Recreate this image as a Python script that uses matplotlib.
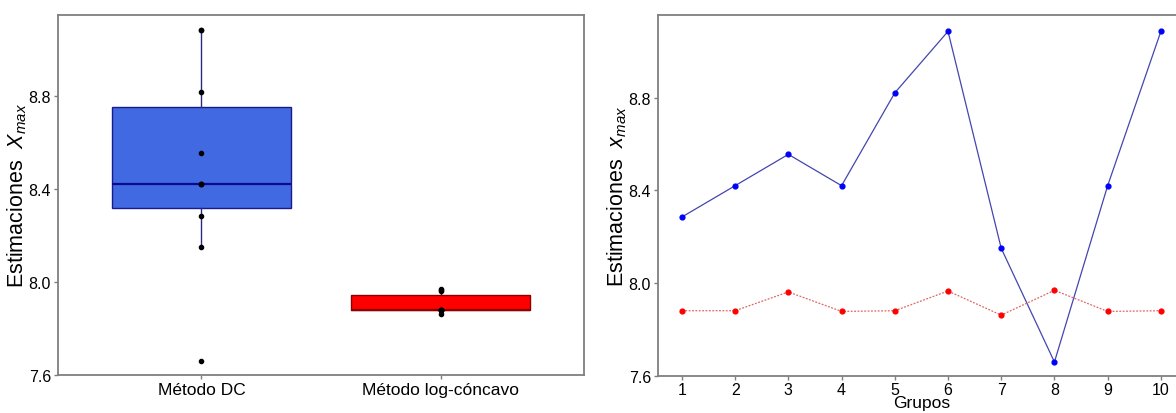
import matplotlib
matplotlib.use("Agg")
import matplotlib.pyplot as plt
import numpy as np

plt.rcParams['font.family'] = ['Liberation Sans', 'DejaVu Sans']
plt.rcParams['mathtext.fontset'] = 'custom'
plt.rcParams['mathtext.rm'] = 'Liberation Sans'
plt.rcParams['mathtext.it'] = 'Liberation Sans:italic'

# estimaciones por grupo
grupos = [1, 2, 3, 4, 5, 6, 7, 8, 9, 10]
dc = [8.285, 8.42, 8.555, 8.42, 8.82, 9.085, 8.15, 7.66, 8.42, 9.085]
logc = [7.881, 7.881, 7.962, 7.878, 7.881, 7.966, 7.862, 7.969, 7.878, 7.881]
metodos = ["Método DC", "Método log-cóncavo"]
yticks = [7.6, 8.0, 8.4, 8.8]

gris = "#7f7f7f"

fig = plt.figure(figsize=(11.76, 4.14), dpi=100)
ax1 = fig.add_axes([0.0493, 0.0918, 0.4473, 0.8696])
ax2 = fig.add_axes([0.5595, 0.089, 0.448, 0.872])

# boxplot
bp = ax1.boxplot([dc, logc], positions=[1, 2], widths=0.75, patch_artist=True,
                 showfliers=False, showcaps=False, whis=1.5)
for caja, fc, ec in zip(bp['boxes'], ["#4169e1", "#ff0000"], ["#1a1a8c", "#8b0000"]):
    caja.set_facecolor(fc)
    caja.set_edgecolor(ec)
    caja.set_linewidth(1.0)
for i, ec in enumerate(["#2a2a80", "#8b0000"]):
    bp['whiskers'][2 * i].set_color(ec)
    bp['whiskers'][2 * i + 1].set_color(ec)
    bp['medians'][i].set_color("#0a0a8c" if i == 0 else "#8b0000")
    bp['medians'][i].set_linewidth(1.6)
for i, d in enumerate([dc, logc]):
    ax1.scatter(np.full(len(d), i + 1), d, s=9, color="black", zorder=4)

ax1.set_xlim(0.4, 2.6)
ax1.set_ylim(7.599, 9.15)
ax1.set_xticks([1, 2])
ax1.set_xticklabels(metodos, fontsize=12.5)
ax1.set_yticks(yticks)
ax1.set_yticklabels([f"{v:.1f}" for v in yticks], fontsize=11.5)
ax1.set_ylabel(r"Estimaciones  $X_{\mathit{max}}$", fontsize=15.5, labelpad=0)

# lineas por grupo
ax2.plot(grupos, dc, color="#4545b0", lw=0.9, zorder=2)
ax2.scatter(grupos, dc, s=12, color="#0000ff", zorder=3)
ax2.plot(grupos, logc, color="#e06666", lw=0.9, ls=(0, (1.5, 1.2)), zorder=2)
ax2.scatter(grupos, logc, s=12, color="#ff0000", zorder=3)

ax2.set_xlim(0.55, 10.45)
ax2.set_ylim(7.599, 9.155)
ax2.set_xticks(grupos)
ax2.set_xticklabels([str(g) for g in grupos], fontsize=11.5)
ax2.set_yticks(yticks)
ax2.set_yticklabels([f"{v:.1f}" for v in yticks], fontsize=11.5)
ax2.set_ylabel(r"Estimaciones  $x_{\mathit{max}}$", fontsize=15.5, labelpad=0)

for ax in (ax1, ax2):
    for s in ax.spines.values():
        s.set_color(gris)
        s.set_linewidth(1.3)
    ax.tick_params(colors=gris, length=3, width=1, labelcolor="black", pad=2)
ax2.tick_params(axis="x", pad=1)
ax2.set_xlabel("Grupos", fontsize=12.5, labelpad=-1)

fig.savefig("out.png", dpi=100)
